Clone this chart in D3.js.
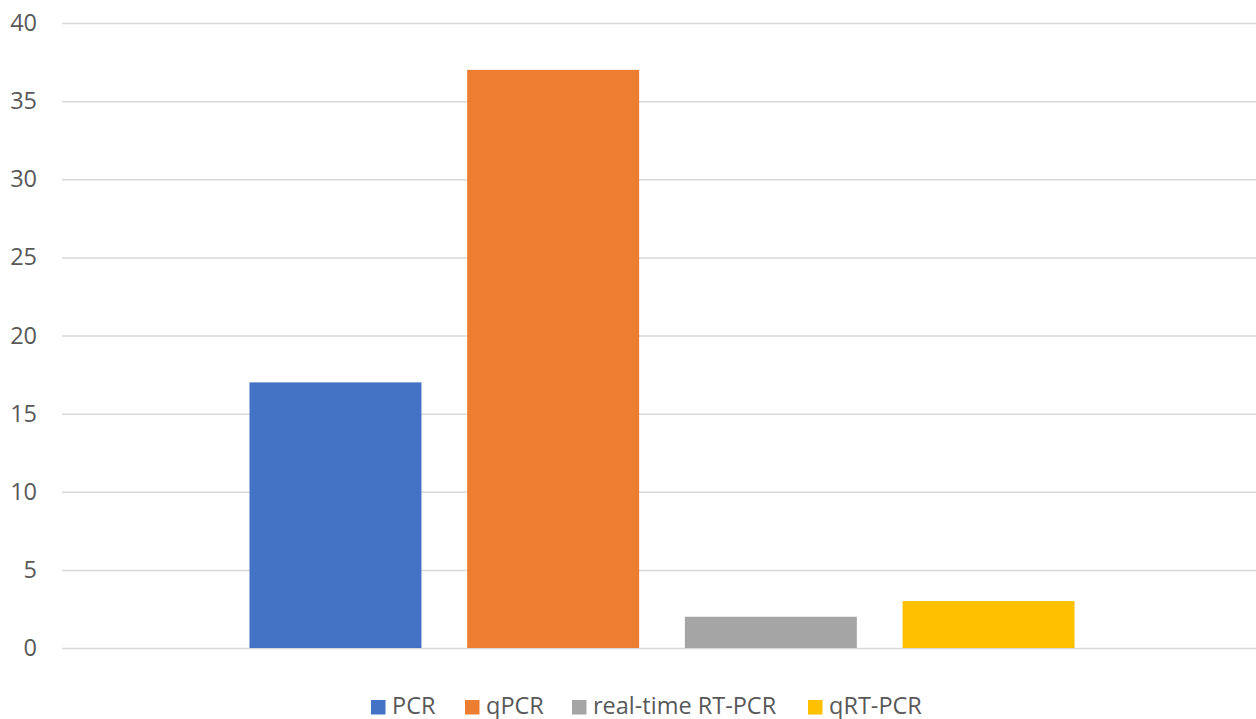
<!DOCTYPE html>
<html><head><meta charset="utf-8">
<script src="https://cdn.jsdelivr.net/npm/d3@7"></script>
<style>body{margin:0;background:#fff;} svg{display:block;font-family:"Open Sans",sans-serif;}</style>
</head><body>
<svg id="c" width="1256" height="719"></svg>
<script>
const categories = ["Methods"];
const series = ["PCR", "qPCR", "real-time RT-PCR", "qRT-PCR"];
const values = [17, 37, 2, 3];
const colors = ["#4472C4", "#ED7D31", "#A5A5A5", "#FFC000"];
const yTicks = [0, 5, 10, 15, 20, 25, 30, 35, 40];

const svg = d3.select("#c");
const mLeft = 62, mRight = 1256, mTop = 23, mBottom = 648;
const y = d3.scaleLinear().domain([0, 40]).range([mBottom, mTop]);
const x0 = d3.scaleBand().domain(categories).range([mLeft + 3, mRight + 3]).paddingInner(0).paddingOuter(0.1856);
const x1 = d3.scaleBand().domain(series).range([0, x0.bandwidth()]).paddingInner(0.21).paddingOuter(0.105);

// gridlines
const yAxis = d3.axisLeft(y).tickValues(yTicks).tickSize(-(mRight - mLeft)).tickPadding(25);
const ga = svg.append("g").attr("transform", `translate(${mLeft},0)`).call(yAxis);
ga.select(".domain").remove();
ga.selectAll(".tick line").attr("stroke", "#D9D9D9").attr("stroke-width", 1.5);
ga.selectAll(".tick text").attr("fill", "#595959").attr("font-size", 23.5).attr("font-family", "Open Sans");

// bars
const g = svg.append("g").attr("transform", `translate(${x0(categories[0])},0)`);
g.selectAll("rect").data(series).join("rect")
  .attr("x", d => x1(d))
  .attr("width", x1.bandwidth())
  .attr("y", (d, i) => y(values[i]))
  .attr("height", (d, i) => y(0) - y(values[i]))
  .attr("fill", (d, i) => colors[i]);

// legend
const legendX = [371, 465, 572, 808];
const lg = svg.append("g");
series.forEach((s, i) => {
  lg.append("rect").attr("x", legendX[i]).attr("y", 700).attr("width", 14.5).attr("height", 14.5).attr("fill", colors[i]);
  lg.append("text").attr("x", legendX[i] + 21).attr("y", 713.5).attr("font-size", 23.5).attr("fill", "#595959").text(s);
});
</script>
</body></html>
